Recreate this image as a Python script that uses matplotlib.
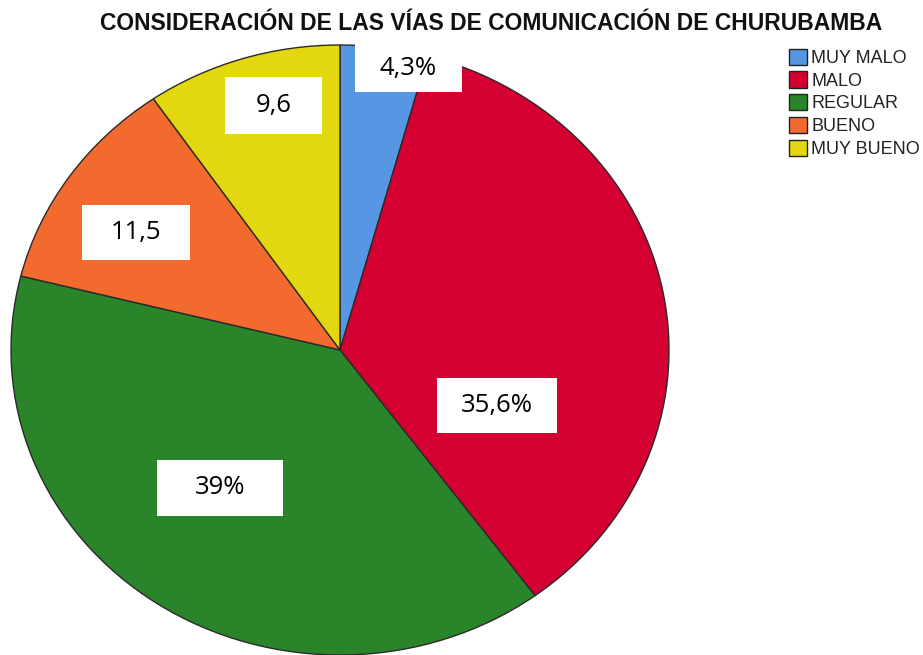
import matplotlib
matplotlib.use("Agg")
import matplotlib.pyplot as plt
from matplotlib.patches import Rectangle, Patch

categories = ["MUY MALO", "MALO", "REGULAR", "BUENO", "MUY BUENO"]
values = [4.3, 35.6, 39.0, 11.5, 9.6]
value_labels = ["4,3%", "35,6%", "39%", "11,5", "9,6"]
colors = ["#5796e3", "#d50032", "#2a852a", "#f26a2d", "#e3d80f"]
title = "CONSIDERACIÓN DE LAS VÍAS DE COMUNICACIÓN DE CHURUBAMBA"

# layout (label box centers in pie units, box sizes in pixels)
label_pos = [(0.208, 0.923), (0.477, -0.182), (-0.365, -0.452), (-0.620, 0.385), (-0.202, 0.802)]
box_px = [(107, 48), (120, 55), (126, 56), (108, 55), (97, 57)]

W, H = 923, 655
fig = plt.figure(figsize=(W / 100, H / 100), dpi=100)
fig.patch.set_facecolor("white")

ax_l, ax_r, ax_t, ax_b = 11, 669, 45, 655
ax = fig.add_axes([ax_l / W, 1 - ax_b / H, (ax_r - ax_l) / W, (ax_b - ax_t) / H])
ax.pie(values, colors=colors, startangle=90, counterclock=False,
       wedgeprops=dict(edgecolor="#2a2a2a", linewidth=1.0), radius=1.0)
ax.set_aspect("auto")
ax.set_xlim(-1, 1)
ax.set_ylim(-1, 1)
ax.axis("off")

sx = 2 / (ax_r - ax_l)
sy = 2 / (ax_b - ax_t)
for (x, y), (bw, bh), lab in zip(label_pos, box_px, value_labels):
    ax.add_patch(Rectangle((x - bw * sx / 2, y - bh * sy / 2), bw * sx, bh * sy,
                           facecolor="white", edgecolor="none", zorder=5, clip_on=False))
    ax.text(x, y, lab, ha="center", va="center", fontsize=18.5, family="Open Sans",
            color="black", zorder=6)

fig.text(491 / W, 1 - 23 / H, title, ha="center", va="center", fontsize=16.5,
         fontweight="bold", family="Liberation Sans", color="#111111")

handles = [Patch(facecolor=c, edgecolor="#222222", linewidth=1.0) for c in colors]
leg = fig.legend(handles, categories, loc="upper left", bbox_to_anchor=(776 / W, 1 - 36 / H),
                 frameon=False, handlelength=1.0, handleheight=1.0,
                 handletextpad=0.25, labelspacing=0.25, borderpad=0.2,
                 prop=dict(family="Liberation Sans", size=13))
for t in leg.get_texts():
    t.set_color("#222222")

fig.savefig("out.png", dpi=100, facecolor="white")
